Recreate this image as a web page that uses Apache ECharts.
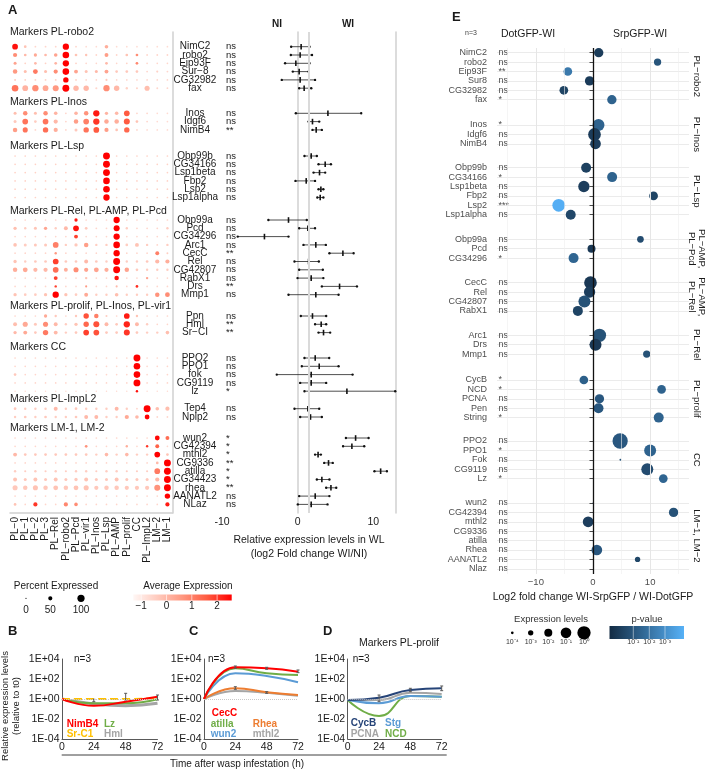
<!DOCTYPE html>
<html><head><meta charset="utf-8">
<script src="https://cdn.jsdelivr.net/npm/echarts@6/dist/echarts.min.js"></script>
<style>html,body{margin:0;padding:0;background:#fff}#c{width:709px;height:772px}</style>
</head><body><div id="c"></div>
<script>
// ---------------- DATA ----------------
const clusters = ['PL−0','PL−1','PL−2','PL−3','PL−Rel','PL−robo2','PL−Pcd','PL−vir1','PL−Inos','PL−Lsp','PL−AMP','PL−prolif','CC','PL−ImpL2','LM−2','LM−1'];
const aHeaders = ['Markers PL-robo2','Markers PL-Inos','Markers PL-Lsp','Markers PL-Rel, PL-AMP, PL-Pcd','Markers PL-prolif, PL-Inos, PL-vir1','Markers CC','Markers PL-ImpL2','Markers LM-1, LM-2'];
const aGroupSizes = [6,3,6,10,3,5,2,9];
const aGenes = ['NimC2','robo2','Eip93F','Sur−8','CG32982','fax',
 'Inos','Idgf6','NimB4',
 'Obp99b','CG34166','Lsp1beta','Fbp2','Lsp2','Lsp1alpha',
 'Obp99a','Pcd','CG34296','Arc1','CecC','Rel','CG42807','RabX1','Drs','Mmp1',
 'Ppn','Hml','Sr−CI',
 'PPO2','PPO1','fok','CG9119','lz',
 'Tep4','Nplp2',
 'wun2','CG42394','mthl2','CG9336','atilla','CG34423','rhea','AANATL2','NLaz'];
// percent expressed per gene x cluster
const aPct = [
 [75,25,10,10,10,85,10,8,8,40,8,8,8,8,8,8],
 [50,25,35,25,40,90,25,20,10,45,10,25,25,10,10,10],
 [30,10,25,10,25,85,10,8,8,25,8,10,25,8,8,8],
 [55,30,60,30,50,90,45,30,30,45,25,25,25,10,15,10],
 [12,10,10,10,10,70,10,8,8,15,8,8,8,8,8,8],
 [90,75,85,75,80,95,70,70,15,85,70,20,12,65,12,10],
 [30,55,30,55,40,10,40,55,85,35,40,75,10,10,8,8],
 [30,75,25,75,50,10,55,75,85,55,55,80,25,10,8,8],
 [55,65,10,70,50,10,30,70,75,50,25,70,10,8,8,8],
 [8,8,8,8,8,8,8,8,8,95,8,8,8,8,8,8],
 [8,8,8,8,8,8,8,8,8,95,8,8,8,8,8,8],
 [8,8,8,8,8,8,8,8,8,95,8,8,8,8,8,8],
 [8,8,8,8,8,8,8,8,8,90,8,8,8,8,8,8],
 [8,8,8,8,8,8,8,8,8,90,8,8,8,8,8,8],
 [8,8,8,8,8,8,8,8,8,85,8,8,8,8,8,8],
 [8,8,8,8,8,8,35,8,8,8,85,8,8,8,8,8],
 [35,20,30,35,20,45,75,25,10,10,80,20,10,10,10,20],
 [8,8,8,8,8,8,45,8,8,8,85,8,8,8,8,8],
 [40,30,30,30,75,20,35,55,20,20,90,25,45,20,10,20],
 [8,8,8,8,20,8,8,8,8,8,85,8,8,8,45,12],
 [35,20,25,25,75,25,25,45,25,20,95,20,20,25,50,50],
 [55,60,50,50,75,45,65,50,60,50,95,55,25,20,20,20],
 [8,8,8,8,45,8,8,20,8,8,55,8,8,20,8,8],
 [8,8,8,8,20,8,8,15,8,8,15,8,25,8,8,8],
 [35,25,25,35,85,35,25,45,20,20,40,20,20,20,55,60],
 [8,8,8,35,20,8,20,70,55,15,8,75,20,8,8,8],
 [45,65,30,65,45,20,35,70,80,45,25,85,45,20,8,8],
 [35,45,25,70,45,20,25,75,75,25,25,80,25,20,20,40],
 [8,8,8,8,8,8,8,8,8,8,8,8,95,8,8,8],
 [8,8,8,8,8,8,8,8,8,8,8,8,90,8,8,8],
 [25,8,8,8,8,8,8,8,8,8,8,8,90,8,8,8],
 [8,8,8,8,8,8,8,8,8,8,8,8,95,8,8,8],
 [5,5,5,5,5,5,5,5,5,5,5,5,20,5,5,5],
 [25,20,20,20,45,20,25,20,20,20,45,20,10,95,40,50],
 [20,25,20,25,20,20,25,45,45,20,20,50,40,60,10,10],
 [8,8,8,8,8,8,8,8,8,8,8,8,8,8,60,45],
 [8,8,8,8,8,8,8,25,8,8,8,20,8,20,45,8],
 [45,25,25,25,25,25,25,25,20,40,20,40,20,20,75,25],
 [8,8,8,8,8,8,8,8,8,8,8,8,8,8,25,95],
 [20,15,20,15,20,15,20,20,15,20,20,15,15,15,75,95],
 [45,30,45,30,45,30,35,45,30,30,45,30,30,30,50,95],
 [65,55,65,55,60,55,60,65,50,55,55,50,50,50,80,95],
 [8,8,8,8,8,8,8,8,8,8,8,8,8,8,8,70],
 [25,8,50,8,8,50,40,8,8,8,8,8,8,8,8,50]
];
// average expression per gene x cluster
const aAvg = [
 [2.4,-0.2,-0.6,-0.6,-0.6,2.6,-0.6,-0.7,-0.7,0.2,-0.7,-0.7,-0.7,-0.7,-0.7,-0.7],
 [0.8,0,0.3,0,0.4,2.6,-0.2,-0.2,-0.6,0.5,-0.6,-0.2,0.8,-0.6,-0.6,-0.6],
 [0.4,-0.5,0,-0.5,0.1,2.6,-0.5,-0.6,-0.6,0,-0.6,-0.5,0.9,-0.6,-0.6,-0.6],
 [0.6,-0.1,1.1,-0.1,0.8,2.6,0.4,-0.2,0,0.4,-0.3,-0.3,-0.3,-0.6,-0.5,-0.6],
 [-0.3,-0.5,-0.5,-0.5,-0.5,2.6,-0.5,-0.6,-0.6,-0.3,-0.6,-0.6,-0.6,-0.6,-0.6,-0.6],
 [1.2,0.1,0.8,0.3,0.6,2.6,0,0,-0.6,0.8,0,-0.5,-0.5,-0.1,-0.6,-0.6],
 [-0.1,0.8,-0.1,0.8,0.1,-0.6,0.1,0.7,2.3,0.1,0,1.6,-0.6,-0.6,-0.7,-0.7],
 [-0.3,1.2,-0.4,1.2,0,-0.6,0.5,1.0,2.0,0.3,0.2,1.6,-0.2,-0.6,-0.7,-0.7],
 [0.5,1.2,-0.6,1.3,0.2,-0.6,-0.3,1.2,1.6,0.5,-0.2,1.4,-0.6,-0.7,-0.7,-0.7],
 [-0.5,-0.5,-0.5,-0.5,-0.5,-0.5,-0.5,-0.5,-0.5,2.6,-0.5,-0.5,-0.5,-0.5,-0.5,-0.5],
 [-0.5,-0.5,-0.5,-0.5,-0.5,-0.5,-0.5,-0.5,-0.5,2.6,-0.5,-0.5,-0.5,-0.5,-0.5,-0.5],
 [-0.5,-0.5,-0.5,-0.5,-0.5,-0.5,-0.5,-0.5,-0.5,2.6,-0.5,-0.5,-0.5,-0.5,-0.5,-0.5],
 [-0.5,-0.5,-0.5,-0.5,-0.5,-0.5,-0.5,-0.5,-0.5,2.6,-0.5,-0.5,-0.5,-0.5,-0.5,-0.5],
 [-0.5,-0.5,-0.5,-0.5,-0.5,-0.5,-0.5,-0.5,-0.5,2.6,-0.5,-0.5,-0.5,-0.5,-0.5,-0.5],
 [-0.5,-0.5,-0.5,-0.5,-0.5,-0.5,-0.5,-0.5,-0.5,2.6,-0.5,-0.5,-0.5,-0.5,-0.5,-0.5],
 [-0.6,-0.6,-0.6,-0.6,-0.6,-0.6,2.3,-0.6,-0.6,-0.6,2.6,-0.6,-0.6,-0.6,-0.6,-0.6],
 [-0.1,-0.4,-0.2,0.4,-0.4,0,2.4,-0.3,-0.6,-0.6,2.6,-0.4,-0.6,-0.6,-0.6,-0.4],
 [-0.6,-0.6,-0.6,-0.6,-0.6,-0.6,1.9,-0.6,-0.6,-0.6,2.6,-0.6,-0.6,-0.6,-0.6,-0.6],
 [-0.2,-0.4,-0.3,-0.3,1.0,-0.4,-0.3,0.5,-0.4,-0.4,2.6,-0.4,-0.2,-0.4,-0.6,-0.4],
 [-0.6,-0.6,-0.6,-0.6,0.6,-0.6,-0.6,-0.6,-0.6,-0.6,2.6,-0.6,-0.6,-0.6,1.0,-0.4],
 [-0.2,-0.4,-0.3,-0.3,1.9,-0.3,-0.3,0,-0.3,-0.4,2.6,-0.4,-0.4,-0.3,0,0.2],
 [0.2,0.3,0,0,1.3,0.2,0.8,0.4,0.4,0.2,2.6,0.4,-0.3,-0.4,-0.4,-0.4],
 [-0.6,-0.6,-0.6,-0.6,1.9,-0.6,-0.6,-0.2,-0.6,-0.6,2.4,-0.6,-0.6,0.4,-0.6,-0.6],
 [-0.6,-0.6,-0.6,-0.6,1.9,-0.6,-0.6,0.6,-0.6,-0.6,0,-0.6,2.1,-0.6,-0.6,-0.6],
 [-0.2,-0.4,-0.4,-0.2,2.6,-0.2,-0.4,0.3,-0.4,-0.4,-0.1,-0.4,-0.4,-0.4,0.7,0.8],
 [-0.6,-0.6,-0.6,0.3,-0.3,-0.6,-0.3,1.7,1.0,-0.4,-0.6,2.3,-0.2,-0.6,-0.6,-0.6],
 [-0.1,0.3,-0.3,0.8,0,-0.4,-0.2,1.4,1.7,0,-0.3,2.2,0,-0.4,-0.6,-0.6],
 [0,0.3,-0.3,1.1,0,-0.4,-0.3,1.9,1.7,-0.3,-0.3,2.0,-0.3,-0.4,-0.4,-0.1],
 [-0.6,-0.6,-0.6,-0.6,-0.6,-0.6,-0.6,-0.6,-0.6,-0.6,-0.6,-0.6,2.6,-0.6,-0.6,-0.6],
 [-0.6,-0.6,-0.6,-0.6,-0.6,-0.6,-0.6,-0.6,-0.6,-0.6,-0.6,-0.6,2.6,-0.6,-0.6,-0.6],
 [-0.3,-0.6,-0.6,-0.6,-0.6,-0.6,-0.6,-0.6,-0.6,-0.6,-0.6,-0.6,2.6,-0.6,-0.6,-0.6],
 [-0.6,-0.6,-0.6,-0.6,-0.6,-0.6,-0.6,-0.6,-0.6,-0.6,-0.6,-0.6,2.6,-0.6,-0.6,-0.6],
 [-0.7,-0.7,-0.7,-0.7,-0.7,-0.7,-0.7,-0.7,-0.7,-0.7,-0.7,-0.7,2.4,-0.7,-0.7,-0.7],
 [-0.3,-0.4,-0.4,-0.4,0,-0.4,-0.3,-0.4,-0.4,-0.4,0,-0.4,-0.6,2.6,-0.1,-0.1],
 [-0.4,-0.3,-0.4,-0.3,-0.4,-0.4,-0.3,0,0,-0.4,-0.4,0.3,0,2.6,-0.6,-0.6],
 [-0.6,-0.6,-0.6,-0.6,-0.6,-0.6,-0.6,-0.6,-0.6,-0.6,-0.6,-0.6,-0.6,-0.6,2.5,1.3],
 [-0.6,-0.6,-0.6,-0.6,-0.6,-0.6,-0.6,0.7,-0.6,-0.6,-0.6,0.2,-0.6,2.0,1.5,-0.6],
 [0,-0.3,-0.3,-0.3,-0.3,-0.3,-0.3,-0.3,-0.4,0,-0.4,0,-0.4,-0.4,2.6,-0.2],
 [-0.6,-0.6,-0.6,-0.6,-0.6,-0.6,-0.6,-0.6,-0.6,-0.6,-0.6,-0.6,-0.6,-0.6,0,2.6],
 [-0.4,-0.4,-0.4,-0.4,-0.4,-0.4,-0.4,-0.4,-0.4,-0.4,-0.4,-0.4,-0.4,-0.4,1.1,2.6],
 [-0.2,-0.3,-0.2,-0.3,-0.2,-0.3,-0.3,-0.2,-0.3,-0.3,-0.2,-0.3,-0.3,-0.3,0,2.6],
 [-0.3,-0.3,-0.2,-0.3,-0.2,-0.3,-0.2,-0.2,-0.3,-0.3,-0.3,-0.3,-0.3,-0.3,0.7,2.6],
 [-0.6,-0.6,-0.6,-0.6,-0.6,-0.6,-0.6,-0.6,-0.6,-0.6,-0.6,-0.6,-0.6,-0.6,-0.6,2.6],
 [-0.2,-0.6,2.0,-0.6,-0.6,0.9,0.8,-0.6,-0.6,-0.6,-0.6,-0.6,-0.6,-0.6,-0.6,2.3]
];
// forest plot (log2 fold change WI/NI): low, mean, high
const fLo   = [-0.86,-0.9,-1.66,-0.64,-2.1,0.2, -0.24,1.44,1.96, 0.9,2.76,2.1,-0.29,2.76,2.6, -3.87,0.2,-7.92,0.77,4.2,-0.42,0.2,-0.02,3.2,-1.21, 0.42,2.3,2.76, 0.9,0.55,-2.76,0.33,0.9, -0.42,0.33, 6.38,6.0,2.3,3.51,10.15,2.54,3.77,0.2,0.02];
const fMean = [0.46,0.33,-0.24,0.2,0.33,0.86, 4.0,1.96,2.45, 1.79,3.64,2.89,1.13,3.07,2.98, -1.21,1.35,-4.39,2.4,5.98,1.44,1.48,1.79,5.54,2.4, 1.96,3.11,3.42, 2.32,2.85,1.79,1.79,6.51, 1.35,1.7, 7.66,7.17,2.7,4.08,10.97,3.2,4.4,2.32,1.79];
const fHi   = [1.57,1.9,1.57,1.44,2.3,1.8, 8.4,2.85,3.2, 2.54,4.4,3.64,2.3,3.4,3.4, 1.21,2.3,-1.21,3.73,7.4,2.8,3.33,3.4,7.84,5.41, 3.77,3.77,4.3, 4.17,5.41,7.26,3.77,12.9, 2.85,3.2, 9.38,8.8,3.07,4.64,11.8,4.2,5.1,4.2,3.95];
const fSig  = ['ns','ns','ns','ns','ns','ns', 'ns','ns','**', 'ns','ns','ns','ns','ns','ns', 'ns','ns','ns','ns','**','ns','ns','ns','**','ns', 'ns','**','**', 'ns','ns','ns','ns','*', 'ns','ns', '*','*','*','**','*','*','**','ns','ns'];
const fTicks = [-10, 0, 10];

// panel E
const eFacets = ['PL−robo2','PL−Inos','PL−Lsp','PL−AMP,\nPL−Pcd','PL−AMP,\nPL−Rel','PL−Rel','PL−prolif','CC','LM−1, LM−2'];
const eFacetSizes = [6,3,6,3,4,3,5,5,8];
const eGenes = ['NimC2','robo2','Eip93F','Sur8','CG32982','fax','Inos','Idgf6','NimB4','Obp99b','CG34166','Lsp1beta','Fbp2','Lsp2','Lsp1alpha','Obp99a','Pcd','CG34296','CecC','Rel','CG42807','RabX1','Arc1','Drs','Mmp1','CycB','NCD','PCNA','Pen','String','PPO2','PPO1','Fok','CG9119','Lz','wun2','CG42394','mthl2','CG9336','atilla','Rhea','AANATL2','Nlaz'];
const eLog2FC = [1.0,11.3,-4.4,-0.6,-5.1,3.3, 0.96,0.26,0.44, -1.2,3.35,-1.6,10.6,-6.0,-3.9, 8.3,-0.26,-3.4, -0.44,-0.6,-1.5,-2.65, 1.13,0.44,9.4, -1.6,12.0,1.13,0.96,11.5, 4.75,10.0,4.8,9.5,12.3, 0,14.1,-0.85,null,0,0.67,7.8,null];
const eExprLog10 = [-1.5,-2.26,-1.74,-1.5,-1.74,-1.5, -0.5,-0.23,-0.98, -1.25,-1.25,-0.75,-1.74,-0.23,-1.25, -2.5,-2.0,-1.25, -0.23,-0.75,-0.5,-1.25, 0,-0.5,-2.26, -1.74,-1.74,-1.5,-1.25,-1.25, 0.75,-0.5,-4.3,-0.5,-1.74, -4.6,-1.5,-0.98,null,-4.6,-0.98,-3.0,null];
const eNegLog10P = [0.15,1.0,2.3,0.1,0.4,1.5, 1.5,0.1,0.2, 0.3,1.5,0.2,0.4,4.2,0.5, 0.7,0.0,1.6, 0.0,0.2,0.9,0.4, 0.9,0.0,0.9, 1.4,1.5,1.1,1.1,1.5, 1.1,1.5,1.0,0.7,1.6, 0.5,0.9,0.2,null,0.5,1.1,0.5,null];
const eSig = ['ns','ns','**','ns','ns','*', '*','ns','ns', 'ns','*','ns','ns','***','ns', 'ns','ns','*', 'ns','ns','ns','ns', 'ns','ns','ns', '*','*','ns','ns','*', 'ns','*','ns','ns','*', 'ns','ns','ns','ns','ns','ns','ns','ns'];

// panels B, C, D (relative expression vs t0)
const timeH = [0, 24, 48, 72];
const bNimB4 = [1, 0.21, 0.54, 1.7];
const bLz    = [1, 0.37, 0.37, 0.93];
const bSrC1  = [1, 1.0, 1.0, 1.25];
const bHml   = [1, 0.32, 0.21, 0.37];
const bErr   = [[24, 0.54, 0.93], [48, 0.8, 3.7], [72, 0.8, 2.5]];
const cCecC   = [1, 1500, 1200, 540];
const cAtilla = [1, 1170, 370, 250];
const cWun2   = [1, 370, 200, 47];
const cRhea   = [1, 11.7, 4.7, 2.5];
const cMthl2  = [1, 6.3, 4.3, 2.1];
const cErr    = [[24, 1170, 2000], [48, 930, 1480], [72, 430, 800], [24, 9.3, 17], [48, 3.7, 5.4]];
const dCycB = [0.8, 1.35, 8, 11.7];
const dStg  = [0.8, 0.37, 2, 1.7];
const dPCNA = [0.8, 0.8, 4.3, 3.2];
const dNCD  = [0.8, 0.02, 2, 1.7];
const dErr  = [[24, 0.54, 2.5], [48, 5.4, 11.7], [72, 6.8, 20]];

// ---------------- LAYOUT / STYLE ----------------
const FONT = 'Liberation Sans';
const aTops = [46.7, 113.3, 156, 220, 316, 358, 408.7, 438];
const aHeadY = [32.3, 102.3, 146, 211, 306, 347.3, 398.7, 428];
const aStep = 8.3;
const eTops = [52.7, 125, 167.7, 239.3, 282.7, 335.3, 380, 441, 503];
const eStep = 9.4;
const C = {red:'#ff0000', green:'#70ad47', yellow:'#ffc000', gray:'#a5a5a5', blue:'#5b9bd5', orange:'#ed7d31', navy:'#264478'};
const redStops = ['#fff7f5','#ffcabd','#ff9780','#ff5b41','#ff0000'];
const dotSize = p => 1.2 + 6 * p / 100;

const grids = [], xAxes = [], yAxes = [], series = [], graphics = [];
const dotSeries = [], eSeries = [];
function addGrid(g){ grids.push(g); return grids.length - 1; }
function txt(x, y, text, o){
  o = o || {};
  return {type:'text', x, y, rotation:o.rot||0, silent:true, z:10,
    style:{text, fill:o.color||'#1a1a1a', fontSize:o.size||10, fontWeight:o.bold?'bold':'normal',
      fontFamily:FONT, align:o.align||'left', verticalAlign:'middle', lineHeight:o.lh||undefined}};
}

// ---- Panel A: dot plot frame ----
let gf = addGrid({left:10, top:32, width:162.5, height:481});
xAxes.push({gridIndex:gf, type:'category', data:clusters,
  axisLine:{lineStyle:{color:'#d0d0d0', width:1.5}}, axisTick:{show:false},
  axisLabel:{rotate:90, interval:0, fontSize:10, color:'#1a1a1a', margin:4, fontFamily:FONT}});
yAxes.push({gridIndex:gf, type:'value', min:0, max:1, position:'right',
  axisLine:{show:true, lineStyle:{color:'#d0d0d0', width:1.5}}, axisTick:{show:false}, axisLabel:{show:false}, splitLine:{show:false}});

// ---- Panel A: forest frame ----
let ff = addGrid({left:222, top:32, width:174, height:481});
xAxes.push({gridIndex:ff, type:'value', min:-10, max:13, interval:10,
  axisLine:{show:false}, axisTick:{show:false}, splitLine:{show:false},
  axisLabel:{fontSize:10.5, color:'#1a1a1a', margin:4, fontFamily:FONT, customValues: fTicks},
  name:'Relative expression levels in WL\n(log2 Fold change WI/NI)', nameLocation:'middle', nameGap:17,
  nameTextStyle:{fontSize:10.5, color:'#1a1a1a', lineHeight:14, fontFamily:FONT}});
yAxes.push({gridIndex:ff, type:'value', min:0, max:1, position:'left',
  axisLine:{show:true, lineStyle:{color:'#d0d0d0', width:1.5}}, axisTick:{show:false}, axisLabel:{show:false}, splitLine:{show:false}});
yAxes.push({gridIndex:ff, type:'value', min:0, max:1, position:'right',
  axisLine:{show:true, lineStyle:{color:'#d0d0d0', width:1.5}}, axisTick:{show:false}, axisLabel:{show:false}, splitLine:{show:false}});
series.push({type:'scatter', xAxisIndex:1, yAxisIndex:1, data:[[1.5,0.5]], symbolSize:0, silent:true,
  markLine:{silent:true, symbol:'none', label:{show:false}, lineStyle:{color:'#dadada', width:2, type:'solid'}, data:[{xAxis:1.5}]}});

// ---- Panel A: groups ----
let gStart = 0;
aGroupSizes.forEach((n, g) => {
  const start = gStart;
  const genes = aGenes.slice(start, start + n);
  const top = aTops[g], h = (n - 1) * aStep;
  const gd = addGrid({left:10, top, width:162.5, height:h});
  xAxes.push({gridIndex:gd, type:'category', data:clusters, show:false});
  yAxes.push({gridIndex:gd, type:'category', data:genes, inverse:true, boundaryGap:false, position:'right',
    axisLine:{show:false}, axisTick:{show:false}, splitLine:{show:false},
    axisLabel:{interval:0, align:'center', margin:22.5, fontSize:10, color:'#1a1a1a', fontFamily:FONT}});
  const data = [];
  for (let r = 0; r < n; r++) for (let c = 0; c < clusters.length; c++)
    data.push([c, r, aPct[start + r][c], aAvg[start + r][c]]);
  dotSeries.push(series.length);
  series.push({type:'scatter', xAxisIndex:xAxes.length - 1, yAxisIndex:yAxes.length - 1, data,
    symbolSize: v => dotSize(v[2]), itemStyle:{opacity:1}, silent:true});
  const gfo = addGrid({left:222, top, width:174, height:h});
  xAxes.push({gridIndex:gfo, type:'value', min:-10, max:13, show:false});
  yAxes.push({gridIndex:gfo, type:'category', data:genes, inverse:true, boundaryGap:false,
    axisLine:{show:false}, axisTick:{show:false}, splitLine:{show:false},
    axisLabel:{interval:0, inside:true, margin:4, fontSize:9.5, color:'#1a1a1a', fontFamily:FONT,
      formatter:(v, i) => fSig[start + i]}});
  const fd = [];
  for (let r = 0; r < n; r++) fd.push([r, fLo[start + r], fMean[start + r], fHi[start + r]]);
  series.push({type:'custom', xAxisIndex:xAxes.length - 1, yAxisIndex:yAxes.length - 1, data:fd,
    encode:{x:[1,2,3], y:0}, silent:true, clip:false,
    renderItem:(params, api) => {
      const y = api.value(0);
      const a = api.coord([api.value(1), y]), m = api.coord([api.value(2), y]), b = api.coord([api.value(3), y]);
      const st = {stroke:'#222', lineWidth:0.8};
      return {type:'group', children:[
        {type:'line', shape:{x1:a[0], y1:a[1], x2:b[0], y2:b[1]}, style:st},
        {type:'line', shape:{x1:m[0], y1:m[1]-2.8, x2:m[0], y2:m[1]+2.8}, style:{stroke:'#111', lineWidth:1.6}},
        {type:'circle', shape:{cx:a[0], cy:a[1], r:1.2}, style:{fill:'#111'}},
        {type:'circle', shape:{cx:b[0], cy:b[1], r:1.2}, style:{fill:'#111'}}
      ]};
    }});
  graphics.push(txt(10, aHeadY[g], aHeaders[g], {size:10.5}));
  gStart += n;
});

// ---- Panel E: background ----
const eb = addGrid({left:497, top:48, width:192, height:526});
xAxes.push({gridIndex:eb, type:'value', min:-16.8, max:16.8, splitNumber:3,
  axisLine:{show:false}, axisTick:{show:false}, splitLine:{show:false},
  axisLabel:{showMinLabel:false, showMaxLabel:false, fontSize:9.5, color:'#4d4d4d', margin:3, fontFamily:FONT,
    formatter: v => (v < 0 ? '−' + Math.abs(v) : String(v))},
  name:'Log2 fold change WI-SrpGFP / WI-DotGFP', nameLocation:'middle', nameGap:17,
  nameTextStyle:{fontSize:10.5, color:'#1a1a1a', fontFamily:FONT}});
yAxes.push({gridIndex:eb, type:'value', min:0, max:1, show:false});
const gl = (x, w, c) => ({xAxis:x, lineStyle:{color:c, width:w, type:'solid'}});
series.push({type:'scatter', xAxisIndex:xAxes.length - 1, yAxisIndex:yAxes.length - 1, data:[[0,0.5]], symbolSize:0, silent:true,
  markLine:{silent:true, symbol:'none', label:{show:false},
    data:[gl(-15,0.6,'#eeeeee'), gl(-5,0.6,'#eeeeee'), gl(5,0.6,'#eeeeee'), gl(15,0.6,'#eeeeee'),
          gl(-10,1,'#e6e6e6'), gl(10,1,'#e6e6e6'), gl(0,1.3,'#111111')]}});

// ---- Panel E: facets ----
let eStart = 0;
eFacetSizes.forEach((n, f) => {
  const start = eStart;
  const genes = eGenes.slice(start, start + n);
  const top = eTops[f], h = (n - 1) * eStep;
  const ge = addGrid({left:497, top, width:192, height:h});
  xAxes.push({gridIndex:ge, type:'value', min:-16.8, max:16.8, show:false});
  const yi = yAxes.length;
  yAxes.push({gridIndex:ge, type:'category', data:genes, inverse:true, boundaryGap:false, position:'left',
    axisLine:{show:false}, axisTick:{show:true, interval:0, length:3.5, lineStyle:{color:'#4d4d4d', width:1}},
    axisLabel:{interval:0, margin:10, fontSize:9, color:'#4d4d4d', fontFamily:FONT},
    splitLine:{show:true, interval:0, lineStyle:{color:'#ebebeb', width:1}}});
  yAxes.push({gridIndex:ge, type:'category', data:genes, inverse:true, boundaryGap:false, position:'left',
    axisLine:{show:false}, axisTick:{show:false}, splitLine:{show:false},
    axisLabel:{interval:0, inside:true, margin:1.5, fontSize:9, color:'#4d4d4d', fontFamily:FONT,
      formatter:(v, i) => eSig[start + i]}});
  const d = [];
  for (let r = 0; r < n; r++) {
    const k = start + r;
    if (eExprLog10[k] !== null) d.push([eLog2FC[k], r, eExprLog10[k], eNegLog10P[k]]);
  }
  eSeries.push(series.length);
  series.push({type:'scatter', xAxisIndex:xAxes.length - 1, yAxisIndex:yi, data:d, z:3, silent:true,
    symbolSize: v => Math.max(1, 2.7 + 2.65 * (v[2] + 4)), itemStyle:{opacity:1}});
  graphics.push(txt(697, top + h / 2, eFacets[f], {size:9.5, rot:-Math.PI/2, align:'center', lh:10, color:'#1a1a1a'}));
  eStart += n;
});

// ---- Panels B, C, D ----
const timeGrids = [{left:62, w:95.5}, {left:204, w:94}, {left:347.7, w:94}];
const timeGridIdx = timeGrids.map(t => {
  const gi = addGrid({left:t.left, top:659, width:t.w, height:80});
  xAxes.push({gridIndex:gi, type:'value', min:0, max:72, interval:24,
    axisLine:{lineStyle:{color:'#595959', width:1}}, axisTick:{show:false}, splitLine:{show:false},
    axisLabel:{fontSize:10.5, color:'#1a1a1a', margin:3, fontFamily:FONT}});
  yAxes.push({gridIndex:gi, type:'log', logBase:10, min:1e-4, max:1e4,
    axisLine:{show:true, lineStyle:{color:'#595959', width:1}}, axisTick:{show:false}, splitLine:{show:false}, minorTick:{show:false},
    axisLabel:{fontSize:10.5, color:'#1a1a1a', margin:2.5, fontFamily:FONT,
      formatter: v => { const e = Math.round(Math.log10(v)); if (e % 2 !== 0) return ''; return '1E' + (e < 0 ? '-' : '+') + String(Math.abs(e)).padStart(2, '0'); }}});
  return {x:xAxes.length - 1, y:yAxes.length - 1};
});
function tsLine(ax, vals, color, extra){
  const s = Object.assign({type:'line', xAxisIndex:ax.x, yAxisIndex:ax.y, smooth:0.5, symbol:'none', silent:true,
    data: timeH.map((t, i) => [t, vals[i]]), lineStyle:{color, width:2}}, extra || {});
  series.push(s);
}
function errBars(ax, arr){
  series.push({type:'custom', xAxisIndex:ax.x, yAxisIndex:ax.y, data:arr, encode:{x:0, y:[1,2]}, silent:true, z:4,
    renderItem:(p, api) => {
      const a = api.coord([api.value(0), api.value(1)]), b = api.coord([api.value(0), api.value(2)]);
      const st = {stroke:'#595959', lineWidth:1};
      return {type:'group', children:[
        {type:'line', shape:{x1:a[0], y1:a[1], x2:b[0], y2:b[1]}, style:st},
        {type:'line', shape:{x1:b[0]-1.5, y1:b[1], x2:b[0]+1.5, y2:b[1]}, style:st},
        {type:'line', shape:{x1:a[0]-1.5, y1:a[1], x2:a[0]+1.5, y2:a[1]}, style:st}]};
    }});
}
const baseLine = {markLine:{silent:true, symbol:'none', label:{show:false}, lineStyle:{color:'#c8c8c8', width:1, type:'dotted'}, data:[{yAxis:1}]}};
const [axB, axC, axD] = timeGridIdx;
tsLine(axB, bHml, C.gray, Object.assign({lineStyle:{color:C.gray, width:3}}, baseLine));
tsLine(axB, bLz, C.green);
tsLine(axB, bSrC1, C.yellow, {lineStyle:{color:C.yellow, width:2, type:'dashed'}});
tsLine(axB, bNimB4, C.red);
errBars(axB, bErr);
tsLine(axC, cMthl2, C.gray, baseLine);
tsLine(axC, cRhea, C.orange);
tsLine(axC, cWun2, C.blue);
tsLine(axC, cAtilla, C.green);
tsLine(axC, cCecC, C.red);
errBars(axC, cErr);
tsLine(axD, dPCNA, C.gray, baseLine);
tsLine(axD, dNCD, C.green);
tsLine(axD, dStg, C.blue);
tsLine(axD, dCycB, C.navy);
errBars(axD, dErr);

// ---------------- GRAPHICS (texts, legends) ----------------
graphics.push(txt(8, 10, 'A', {size:13, bold:true}));
graphics.push(txt(8, 631, 'B', {size:13, bold:true}));
graphics.push(txt(189, 631, 'C', {size:13, bold:true}));
graphics.push(txt(323, 631, 'D', {size:13, bold:true}));
graphics.push(txt(452, 17, 'E', {size:13, bold:true}));
graphics.push(txt(277, 24, 'NI', {size:10, bold:true, align:'center'}));
graphics.push(txt(348, 24, 'WI', {size:10, bold:true, align:'center'}));
graphics.push(txt(465, 33, 'n=3', {size:7, color:'#444'}));
graphics.push(txt(528, 34, 'DotGFP-WI', {size:10.5, align:'center'}));
graphics.push(txt(640, 34, 'SrpGFP-WI', {size:10.5, align:'center'}));
// A legends
graphics.push(txt(56, 586, 'Percent Expressed', {size:10, align:'center'}));
[[26,0],[50.3,50],[81,100]].forEach(([x,p]) => {
  graphics.push({type:'circle', silent:true, shape:{cx:x, cy:598.3, r:dotSize(p)/2}, style:{fill:'#000'}});
  graphics.push(txt(x, 610, String(p), {size:10, align:'center'}));
});
graphics.push(txt(188, 586, 'Average Expression', {size:10, align:'center'}));
graphics.push({type:'rect', silent:true, shape:{x:133.3, y:594.5, width:98.4, height:6},
  style:{fill:new echarts.graphic.LinearGradient(0,0,1,0, redStops.map((c,i)=>({offset:i/(redStops.length-1), color:c})))}});
[[141.2,'−1'],[166.5,'0'],[191.8,'1'],[217.1,'2']].forEach(([x,l]) => {
  graphics.push({type:'line', silent:true, shape:{x1:x, y1:594.5, x2:x, y2:600.5}, style:{stroke:'#fff', lineWidth:0.6}});
  graphics.push(txt(x, 606.5, l, {size:10, align:'center'}));
});
// E legends
graphics.push(txt(551, 619, 'Expression levels', {size:9.5, align:'center', color:'#333'}));
const expLab = ['10⁻⁴','10⁻³','10⁻²','10⁻¹','10⁰'];
[512.3, 530.7, 548.3, 566, 584].forEach((x, i) => {
  graphics.push({type:'circle', silent:true, shape:{cx:x, cy:632.8, r:(2.7 + 2.65*i)/2}, style:{fill:'#000'}});
  graphics.push(txt(x, 642.5, expLab[i], {size:7, align:'center', color:'#333'}));
});
graphics.push(txt(647, 619, 'p-value', {size:9.5, align:'center', color:'#333'}));
graphics.push({type:'rect', silent:true, shape:{x:609.5, y:626, width:74.5, height:13},
  style:{fill:new echarts.graphic.LinearGradient(0,0,1,0,[{offset:0,color:'#132B43'},{offset:1,color:'#56B1F7'}])}});
[[633.3,'10⁻¹'],[649.3,'10⁻²'],[665,'10⁻³']].forEach(([x,l]) => {
  graphics.push({type:'line', silent:true, shape:{x1:x, y1:626, x2:x, y2:639}, style:{stroke:'#fff', lineWidth:0.6, opacity:0.8}});
  graphics.push(txt(x, 642.5, l, {size:7, align:'center', color:'#333'}));
});
// B/C/D annotations
graphics.push(txt(10.5, 706, 'Relative expression levels\n(relative to t0)', {size:9.5, rot:Math.PI/2, align:'center', lh:11}));
graphics.push(txt(399, 643, 'Markers PL-prolif', {size:10.5, align:'center'}));
[[74,659],[208,659],[352.7,659]].forEach(([x,y]) => graphics.push(txt(x, y, 'n=3', {size:10})));
const legs = [
  ['NimB4',66.7,724.3,C.red],['Lz',104,724.3,C.green],['Sr-C1',66.7,734,C.yellow],['Hml',104,734,C.gray],
  ['CecC',211.7,713.3,C.red],['atilla',210.7,724.3,C.green],['Rhea',252.7,724.3,C.orange],['wun2',210.7,734,C.blue],['mthl2',252.7,734,C.gray],
  ['CycB',350.7,723.3,C.navy],['Stg',385,723.3,C.blue],['PCNA',350.7,734,C.gray],['NCD',385,734,C.green]];
legs.forEach(([t,x,y,c]) => graphics.push(txt(x, y, t, {size:10, bold:true, color:c})));
graphics.push({type:'line', silent:true, shape:{x1:61.7, y1:755, x2:446.7, y2:755}, style:{stroke:'#404040', lineWidth:1}});
graphics.push(txt(237, 764, 'Time after wasp infestation (h)', {size:10, align:'center'}));

// ---------------- CHART ----------------
const chart = echarts.init(document.getElementById('c'), null, {renderer:'canvas'});
chart.setOption({
  animation:false,
  backgroundColor:'#ffffff',
  textStyle:{fontFamily:FONT},
  grid:grids, xAxis:xAxes, yAxis:yAxes, series,
  visualMap:[
    {type:'continuous', show:false, seriesIndex:dotSeries, dimension:3, min:-1.31, max:2.58, inRange:{color:redStops}},
    {type:'continuous', show:false, seriesIndex:eSeries, dimension:3, min:-0.48, max:4.29, inRange:{color:['#132B43','#56B1F7']}}
  ],
  graphic:graphics
});
</script></body></html>
